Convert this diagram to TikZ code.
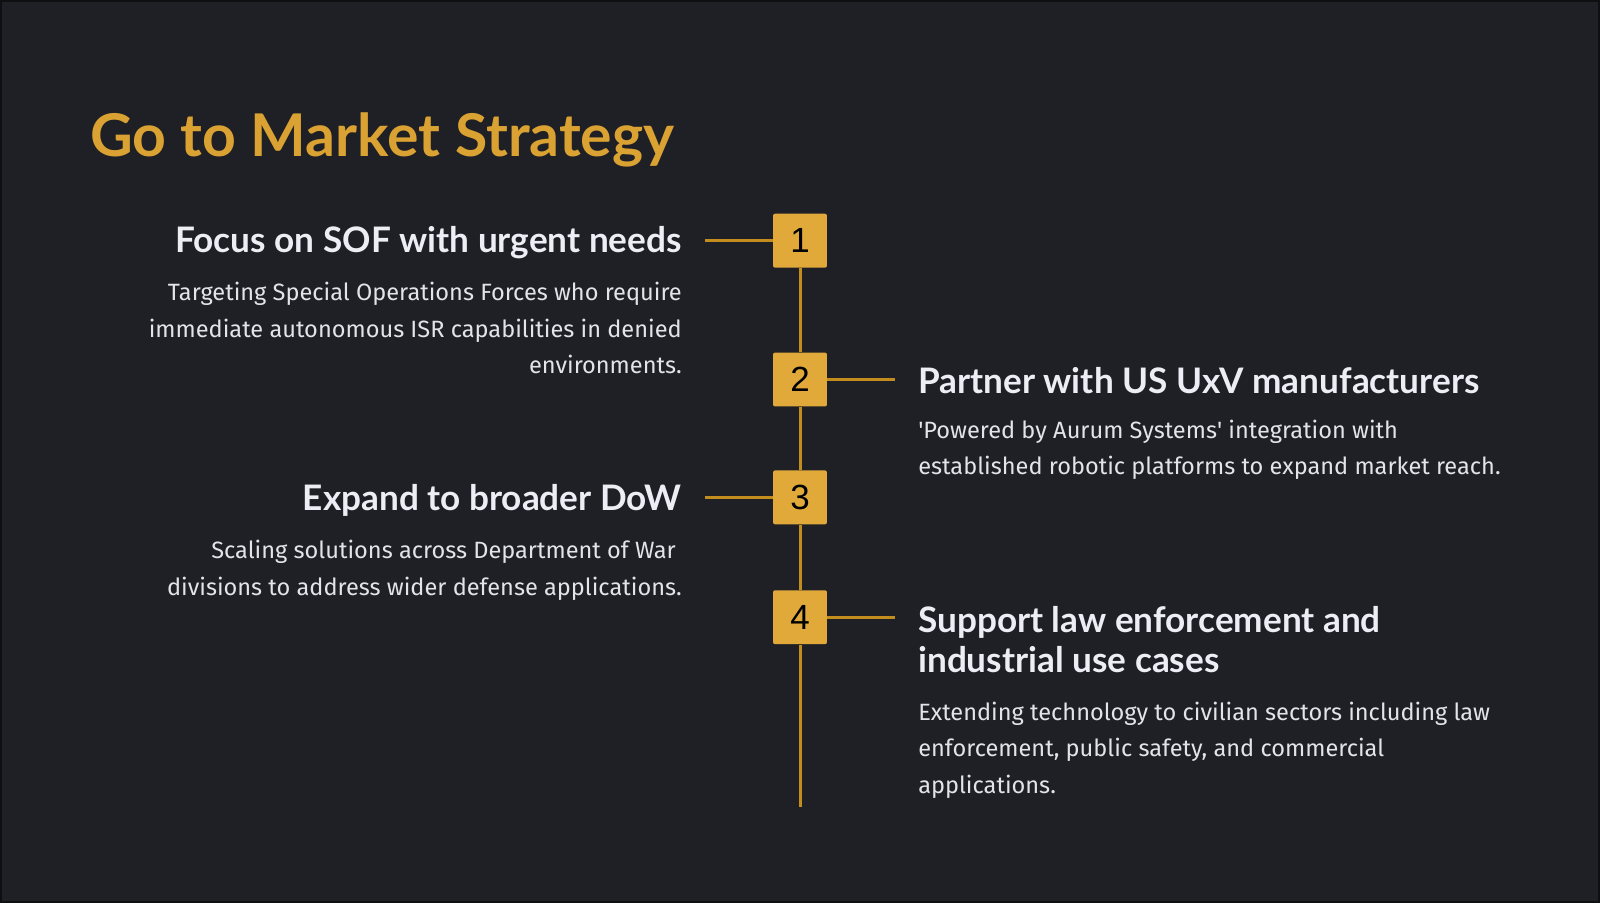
\documentclass[tikz,border=0pt]{standalone}
\usepackage{fontspec}
\setmainfont{Fira Sans}
\newfontfamily\headfont{Lato}
\newfontfamily\numfont{Liberation Sans}
\usetikzlibrary{positioning}
\definecolor{bg}{HTML}{1F2025}
\definecolor{frame}{HTML}{0E0F11}
\definecolor{gold}{HTML}{DAA232}
\definecolor{goldbox}{HTML}{E0A93A}
\definecolor{goldline}{HTML}{C38D1D}
\definecolor{ink}{HTML}{EDEEF5}
\definecolor{soft}{HTML}{E3E4EA}
\tikzset{
  numbox/.style={fill=goldbox, rounded corners=1pt, minimum size=27pt,
                 inner sep=0pt, text=black,
                 font=\numfont\fontsize{17.5}{20}\selectfont},
  spine/.style={draw=goldline, line width=1.5pt},
  %
  head/.style={font=\headfont\bfseries\fontsize{17.6}{20}\selectfont,
               text=ink, inner sep=0pt},
  headl/.style={head, anchor=base east, align=right},
  headr/.style={head, anchor=base west, align=left},
  desc/.style={font=\fontsize{11.8}{18.2}\selectfont, text=soft, inner sep=0pt},
  descl/.style={desc, anchor=base east, align=right},
  descr/.style={desc, anchor=base west, align=left},
}

\begin{document}
\begin{tikzpicture}[x=0.5pt, y=-0.5pt]

  \fill[bg] (0,0) rectangle (1600,902);
  \draw[frame, line width=1pt] (0,0) rectangle (1600,902);

  \node[anchor=base west, inner sep=0pt, text=gold,
        font=\headfont\bfseries\fontsize{29.5}{34}\selectfont]
    (title) at (89,156) {Go to Market Strategy};

  % the numbered steps
  \node[numbox] (num1) at (800,240) {1};
  \node[numbox] (num2) at (800,379) {2};
  \node[numbox] (num3) at (800,497) {3};
  \node[numbox] (num4) at (800,617) {4};

  \coordinate (tail) at (800,807);
  \coordinate (tie1) at (705,240);
  \coordinate (tie2) at (895,379);
  \coordinate (tie3) at (705,497);
  \coordinate (tie4) at (895,617);

  \draw[spine] (num1.south) -- (num2.north);
  \draw[spine] (num2.south) -- (num3.north);
  \draw[spine] (num3.south) -- (num4.north);
  \draw[spine] (num4.south) -- (tail);

  \draw[spine] (num1.west) -- (tie1);
  \draw[spine] (num2.east) -- (tie2);
  \draw[spine] (num3.west) -- (tie3);
  \draw[spine] (num4.east) -- (tie4);

  % left side (base = last line)
  \node[headl] (head1) at (682,252) {Focus on SOF with urgent needs};
  \node[descl] (desc1) at (682,373)
    {Targeting Special Operations Forces who require\\
     immediate autonomous ISR capabilities in denied\\
     environments.};

  \node[headl] (head3) at (682,510) {Expand to broader DoW};
  \node[descl] (desc3) at (682,595)
    {Scaling solutions across Department of War\hspace*{3pt}\\
     divisions to address wider defense applications.};

  % right side
  \node[headr] (head2) at (918,393) {Partner with US UxV manufacturers};
  \node[descr] (desc2) at (918,474)
    {\textquotesingle Powered by Aurum Systems\textquotesingle{} integration with\\
     established robotic platforms to expand market reach.};

  \node[headr] (head4) at (918,672)
    {Support law enforcement and\\industrial use cases};
  \node[descr] (desc4) at (918,793)
    {Extending technology to civilian sectors including law\\
     enforcement, public safety, and commercial\\
     applications.};

\end{tikzpicture}
\end{document}
